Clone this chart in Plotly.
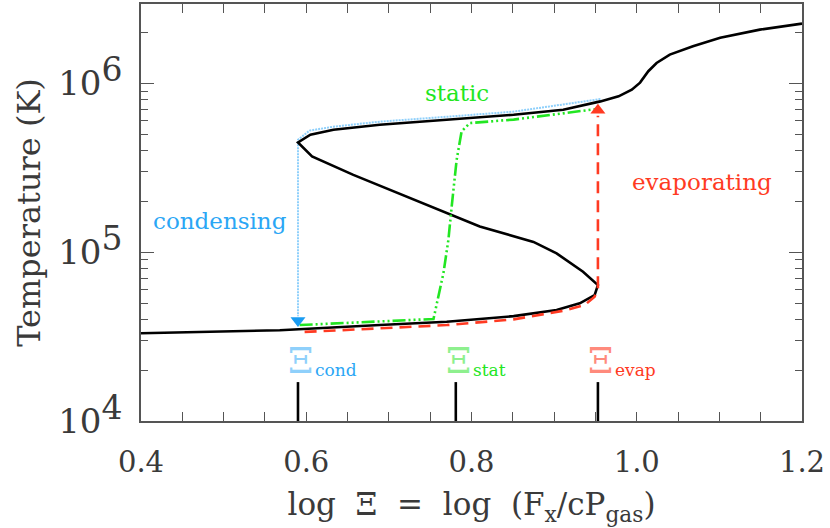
import plotly.graph_objects as go

# ---------------- data ----------------
# S-curve: log Xi vs temperature (K)
s_logxi = [0.400, 0.568, 0.689, 0.770, 0.851, 0.903, 0.931, 0.949, 0.953,
           0.935, 0.903, 0.875, 0.810, 0.730, 0.657, 0.607, 0.590,
           0.605, 0.633, 0.689, 0.770, 0.851, 0.911, 0.956, 0.978, 0.994,
           1.004, 1.014, 1.024, 1.040, 1.068, 1.101, 1.149, 1.200]
s_temp = [3.31e4, 3.45e4, 3.70e4, 3.87e4, 4.18e4, 4.54e4, 4.98e4, 5.56e4, 6.38e4,
          7.66e4, 9.84e4, 1.15e5, 1.42e5, 2.04e5, 2.87e5, 3.69e5, 4.47e5,
          4.97e5, 5.31e5, 5.69e5, 6.10e5, 6.52e5, 6.98e5, 7.82e5, 8.38e5, 9.18e5,
          1.01e6, 1.18e6, 1.32e6, 1.48e6, 1.66e6, 1.86e6, 2.08e6, 2.26e6]

# condensing path (dotted, blue)
cond_logxi = [0.956, 0.850, 0.770, 0.689, 0.632, 0.604, 0.590, 0.590]
cond_temp = [8.07e5, 6.79e5, 6.34e5, 5.93e5, 5.53e5, 5.25e5, 4.63e5, 4.18e4]
cond_arrow_logxi = [0.590]
cond_arrow_temp = [3.94e4]

# static path (dash-dot-dot-dot, green)
stat_logxi = [0.592, 0.754, 0.766, 0.772, 0.776, 0.782, 0.788, 0.798, 0.851, 0.911, 0.952]
stat_temp = [3.70e4, 4.02e4, 7.50e4, 1.18e5, 1.86e5, 3.52e5, 5.19e5, 5.82e5, 6.10e5, 6.67e5, 7.05e5]

# evaporating path (dashed, red)
evap_logxi = [0.598, 0.689, 0.770, 0.851, 0.911, 0.937, 0.949, 0.953, 0.953]
evap_temp = [3.37e4, 3.53e4, 3.70e4, 4.00e4, 4.50e4, 4.86e4, 5.45e4, 6.11e4, 6.43e5]
evap_arrow_logxi = [0.953]
evap_arrow_temp = [6.93e5]

# critical Xi markers
xi_names = ["cond", "stat", "evap"]
xi_values = [0.590, 0.781, 0.953]
xi_tick_temp = [1.0e4, 1.70e4]

x_tickvals = [0.4, 0.6, 0.8, 1.0, 1.2]
x_ticktext = ["0.4", "0.6", "0.8", "1.0", "1.2"]
y_tickvals = [1e4, 1e5, 1e6]
y_ticktext = ["10<sup><span style='font-size:33px'>4</span></sup>",
              "10<sup><span style='font-size:33px'>5</span></sup>",
              "10<sup><span style='font-size:33px'>6</span></sup>"]
y_minor = [2e4, 3e4, 4e4, 5e4, 6e4, 7e4, 8e4, 9e4,
           2e5, 3e5, 4e5, 5e5, 6e5, 7e5, 8e5, 9e5,
           2e6, 3e6]

# ---------------- styling ----------------
FONT = "DejaVu Serif"
TXT = "#3a3a3a"
AX = "#555555"
BLUE_LINE = "#8fd0fb"
BLUE = "#2aa6f5"
BLUE_MK = "#1a9cf2"
GREEN = "#22e622"
GREEN_LIGHT = "#8ef08e"
RED = "#ff3a22"
RED_LIGHT = "#ff8a7c"

fig = go.Figure()

fig.add_trace(go.Scatter(x=cond_logxi, y=cond_temp, mode="lines",
                         line=dict(color=BLUE_LINE, width=2, dash="2px,1px"),
                         hoverinfo="skip"))
fig.add_trace(go.Scatter(x=s_logxi, y=s_temp, mode="lines",
                         line=dict(color="black", width=2.6), hoverinfo="skip"))
fig.add_trace(go.Scatter(x=stat_logxi, y=stat_temp, mode="lines",
                         line=dict(color=GREEN, width=2.6,
                                   dash="13px,3px,2px,3px,2px,3px,2px,3px"),
                         hoverinfo="skip"))
fig.add_trace(go.Scatter(x=evap_logxi, y=evap_temp, mode="lines",
                         line=dict(color=RED, width=2.6, dash="12px,7px"),
                         hoverinfo="skip"))
fig.add_trace(go.Scatter(x=cond_arrow_logxi, y=cond_arrow_temp, mode="markers",
                         marker=dict(symbol="triangle-down", size=13, color=BLUE_MK,
                                     line=dict(width=0)), hoverinfo="skip"))
fig.add_trace(go.Scatter(x=evap_arrow_logxi, y=evap_arrow_temp, mode="markers",
                         marker=dict(symbol="triangle-up", size=13, color=RED,
                                     line=dict(width=0)), hoverinfo="skip"))

# vertical black ticks at the critical Xi values
vx, vy = [], []
for xv in xi_values:
    vx += [xv, xv, None]
    vy += [xi_tick_temp[0], xi_tick_temp[1], None]
fig.add_trace(go.Scatter(x=vx, y=vy, mode="lines",
                         line=dict(color="black", width=2.6), hoverinfo="skip"))

annotations = []
xi_glyph_colors = [BLUE_LINE, GREEN_LIGHT, RED_LIGHT]
xi_sub_colors = [BLUE, GREEN, RED]
for name, xv, gc, sc in zip(xi_names, xi_values, xi_glyph_colors, xi_sub_colors):
    annotations.append(dict(x=xv, y=4.360, xref="x", yref="y", text="Ξ",
                            showarrow=False, xanchor="center", yanchor="middle",
                            xshift=3, font=dict(family=FONT, size=36, color=gc)))
    annotations.append(dict(x=xv, y=4.305, xref="x", yref="y", text=name,
                            showarrow=False, xanchor="left", yanchor="middle",
                            xshift=15, font=dict(family=FONT, size=17, color=sc)))

# path labels
annotations.append(dict(x=0.4956, y=5.185, xref="x", yref="y", text="condensing",
                        showarrow=False, font=dict(family=FONT, size=23, color=BLUE)))
annotations.append(dict(x=0.782, y=5.945, xref="x", yref="y", text="static",
                        showarrow=False, font=dict(family=FONT, size=23, color=GREEN)))
annotations.append(dict(x=1.079, y=5.417, xref="x", yref="y", text="evaporating",
                        showarrow=False, font=dict(family=FONT, size=23, color=RED)))

fig.update_layout(
    width=830, height=528,
    margin=dict(l=141, r=28, t=4, b=107),
    paper_bgcolor="white", plot_bgcolor="white",
    showlegend=False,
    annotations=annotations,
    font=dict(family=FONT, color=TXT),
)

fig.update_xaxes(
    range=[0.4, 1.2], tickvals=x_tickvals, ticktext=x_ticktext,
    ticks="inside", ticklen=9, tickwidth=1.3, tickcolor=AX,
    minor=dict(dtick=0.05, ticks="inside", ticklen=9, tickwidth=1.3, tickcolor=AX),
    showline=True, linecolor=AX, linewidth=1.5, mirror="ticks",
    showgrid=False, zeroline=False, automargin=False,
    tickfont=dict(family=FONT, size=29, color=TXT), ticklabelstandoff=14,
    title=dict(text="log  Ξ  =  log  (F<sub>x</sub>/cP<sub>gas</sub>)",
               font=dict(family=FONT, size=31, color=TXT), standoff=16),
)
fig.update_yaxes(
    type="log", range=[4, 6.47], tickvals=y_tickvals, ticktext=y_ticktext,
    ticks="inside", ticklen=13, tickwidth=1.3, tickcolor=AX,
    minor=dict(tickvals=y_minor, ticks="inside", ticklen=7, tickwidth=1.3, tickcolor=AX),
    showline=True, linecolor=AX, linewidth=1.5, mirror="ticks",
    showgrid=False, zeroline=False, automargin=False,
    tickfont=dict(family=FONT, size=34, color=TXT), ticklabelstandoff=10,
    title=dict(text="Temperature (K)", font=dict(family=FONT, size=32, color=TXT),
               standoff=8),
)

fig.write_html("out.html", config={"displayModeBar": False},
               post_script="document.body.style.margin='0';document.body.style.overflow='hidden';")
